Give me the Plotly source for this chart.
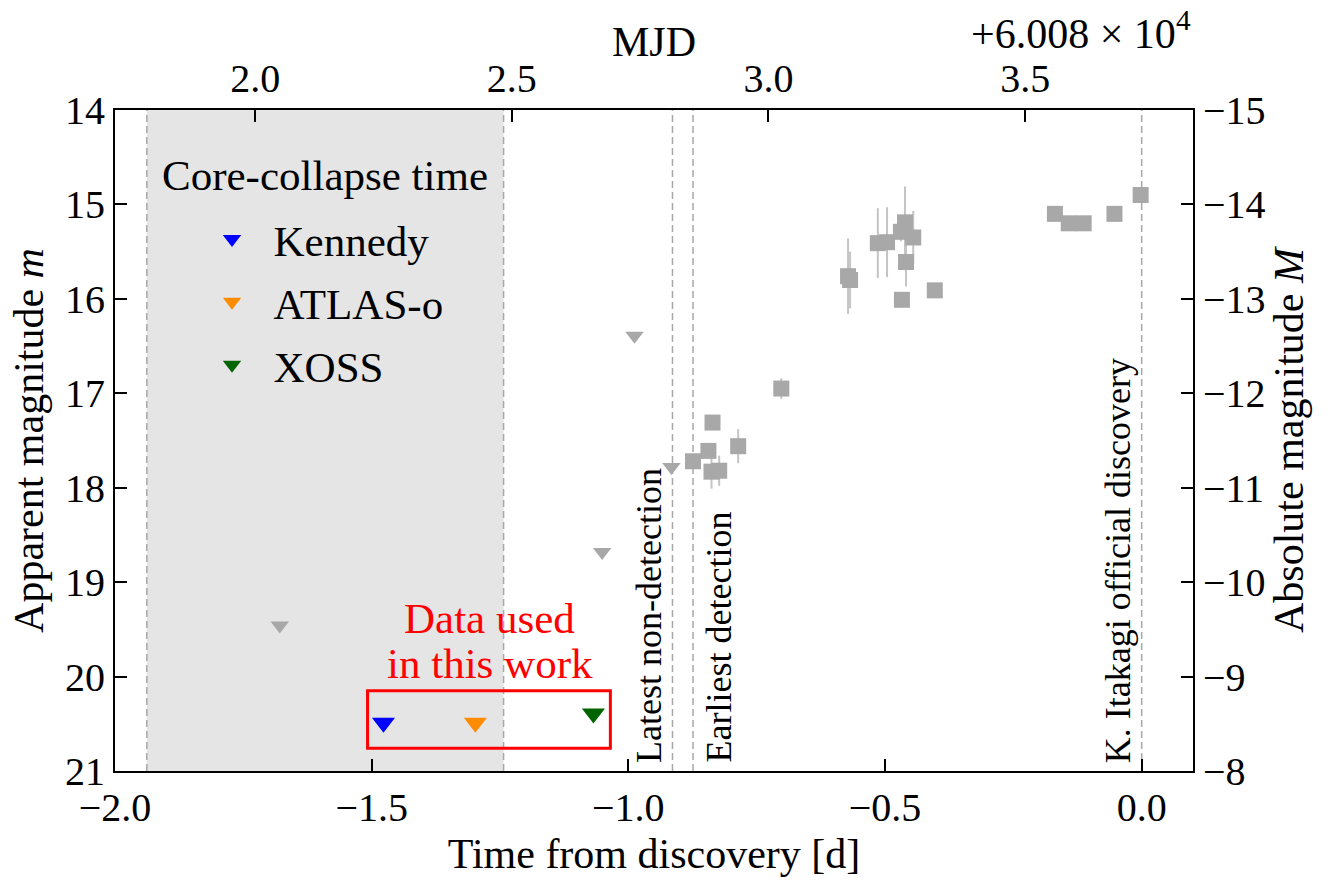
import plotly.graph_objects as go

# ---------------- data ----------------
MJD_DISC = 60083.727      # discovery epoch (MJD)
MJD_OFFSET = 60080.0      # offset shown on the top axis
DIST_MOD = 29.0           # m - M

# detections (gray squares with errors), time from discovery [d]
det_t = [-0.874, -0.844, -0.836, -0.838, -0.823, -0.786, -0.702,
         -0.572, -0.568, -0.514, -0.496, -0.469, -0.461, -0.445,
         -0.459, -0.467, -0.403, -0.169, -0.142, -0.113, -0.053, -0.002]
det_m = [17.72, 17.61, 17.31, 17.83, 17.82, 17.56, 16.95,
         15.76, 15.80, 15.41, 15.40, 15.29, 15.19, 15.35,
         15.61, 16.01, 15.91, 15.10, 15.20, 15.20, 15.10, 14.90]
det_err = [0.04, 0.04, 0.04, 0.18, 0.16, 0.18, 0.11,
           0.40, 0.30, 0.37, 0.37, 0.10, 0.38, 0.28,
           0.26, 0.04, 0.04, 0.03, 0.03, 0.03, 0.03, 0.03]

# other non-detections (gray triangles)
lim_t = [-1.679, -1.051, -0.988, -0.916]
lim_m = [19.46, 18.68, 16.39, 17.78]

# non-detections used in this work
used_names = ["Kennedy", "ATLAS-o", "XOSS"]
used_t = [-1.477, -1.298, -1.068]
used_m = [20.49, 20.49, 20.39]
used_colors = ["#0000ff", "#ff8c00", "#006400"]

# core-collapse window and marked epochs
cc_window = [-1.938, -1.243]
event_names = ["Latest non-detection", "Earliest detection", "K. Itakagi official discovery"]
event_t = [-0.914, -0.874, 0.0]
event_anchor = ["right", "left", "right"]   # text box edge placed on the line

# axes
x_range = [-2.0, 0.1]
x_ticks = [-2.0, -1.5, -1.0, -0.5, 0.0]
mjd_ticks = [2.0, 2.5, 3.0, 3.5]
m_range = [21, 14]
m_ticks = [14, 15, 16, 17, 18, 19, 20, 21]
M_ticks = [-15, -14, -13, -12, -11, -10, -9, -8]

# ---------------- figure ----------------
FONT = "Liberation Serif"
GRAY = "#a8a8a8"
DASH = "7px,4px"
NB = "\u00a0"

fig = go.Figure()

fig.add_trace(go.Scatter(
    x=det_t, y=det_m, mode="markers",
    marker=dict(symbol="square", size=16, color=GRAY),
    error_y=dict(type="data", array=det_err, color="#c4c4c4", thickness=2, width=0),
    showlegend=False, hoverinfo="skip"))

fig.add_trace(go.Scatter(
    x=lim_t, y=lim_m, mode="markers",
    marker=dict(symbol="triangle-down", size=16, color=GRAY),
    showlegend=False, hoverinfo="skip"))

for i, name in enumerate(used_names):
    fig.add_trace(go.Scatter(
        x=[used_t[i]], y=[used_m[i]], mode="markers", name=NB * 2 + name,
        legendgroup=name,
        marker=dict(symbol="triangle-down", size=20, color=used_colors[i]),
        hoverinfo="skip"))

# invisible traces to carry the secondary axes
fig.add_trace(go.Scatter(
    x=[t + MJD_DISC - MJD_OFFSET for t in det_t], y=det_m, xaxis="x2", yaxis="y",
    mode="markers", marker=dict(opacity=0), showlegend=False, hoverinfo="skip"))
fig.add_trace(go.Scatter(
    x=det_t, y=[m - DIST_MOD for m in det_m], xaxis="x", yaxis="y2",
    mode="markers", marker=dict(opacity=0), showlegend=False, hoverinfo="skip"))

shapes = [
    dict(type="rect", xref="x", yref="paper", x0=cc_window[0], x1=cc_window[1], y0=0, y1=1,
         fillcolor="#e5e5e5", line=dict(width=0), layer="below"),
]
for xv in cc_window + event_t:
    shapes.append(dict(type="line", xref="x", yref="paper", x0=xv, x1=xv, y0=0, y1=1,
                       line=dict(color=GRAY, width=1.5, dash=DASH), layer="below"))
shapes.append(dict(type="rect", xref="x", yref="y", x0=-1.508, x1=-1.035, y0=20.15, y1=20.76,
                   line=dict(color="red", width=3), layer="above"))

annotations = [
    dict(text="Core-collapse time", x=sum(cc_window) / 2, y=14.69, xref="x", yref="y",
         showarrow=False, xanchor="center", yanchor="middle", font=dict(size=43)),
    dict(text="Data used", x=-1.27, y=19.38, xref="x", yref="y",
         showarrow=False, xanchor="center", yanchor="middle", font=dict(size=43, color="red")),
    dict(text="in this work", x=-1.27, y=19.86, xref="x", yref="y",
         showarrow=False, xanchor="center", yanchor="middle", font=dict(size=43, color="red")),
    dict(text="+6.008 × 10<sup>4</sup>", x=1.0, y=1.12, xref="paper", yref="paper",
         showarrow=False, xanchor="right", yanchor="middle", font=dict(size=42)),
    dict(text="MJD", x=0.5, y=1.1026, xref="paper", yref="paper",
         showarrow=False, xanchor="center", yanchor="middle", font=dict(size=42)),
]
for name, t, anc in zip(event_names, event_t, event_anchor):
    annotations.append(dict(text=name, x=t, y=21, xref="x", yref="y", textangle=-90,
                            showarrow=False, xanchor=anc, yanchor="bottom",
                            xshift=-2 if anc == "right" else 3, yshift=6,
                            font=dict(size=36)))

axis_common = dict(ticks="inside", ticklen=12, tickwidth=2, tickcolor="black",
                   showline=True, linewidth=2, linecolor="black", showgrid=False,
                   zeroline=False, tickfont=dict(size=40))

fig.update_layout(
    width=1329, height=881, autosize=False,
    margin=dict(l=115, r=136, t=110, b=108),
    paper_bgcolor="white", plot_bgcolor="white",
    font=dict(family=FONT, color="black", size=40),
    xaxis=dict(range=x_range, tickvals=x_ticks, tickformat=".1f",
               title=dict(text="Time from discovery [d]", font=dict(size=42), standoff=10),
               **axis_common),
    xaxis2=dict(range=[x_range[0] + MJD_DISC - MJD_OFFSET, x_range[1] + MJD_DISC - MJD_OFFSET],
                overlaying="x", side="top", anchor="y", tickvals=mjd_ticks, tickformat=".1f",
                **axis_common),
    yaxis=dict(range=m_range, tickvals=m_ticks,
               title=dict(text="Apparent magnitude <i>m</i>", font=dict(size=42), standoff=8),
               **axis_common),
    yaxis2=dict(range=[m_range[0] - DIST_MOD, m_range[1] - DIST_MOD], overlaying="y",
                side="right", anchor="x", tickvals=M_ticks,
                title=dict(text="Absolute magnitude <i>M</i>", font=dict(size=42), standoff=8),
                **axis_common),
    legend=dict(x=0.09, y=0.857, xanchor="left", yanchor="top", bgcolor="rgba(0,0,0,0)",
                font=dict(size=43), tracegroupgap=4, itemsizing="trace"),
    shapes=shapes, annotations=annotations,
)

fig.write_html("out.html")
